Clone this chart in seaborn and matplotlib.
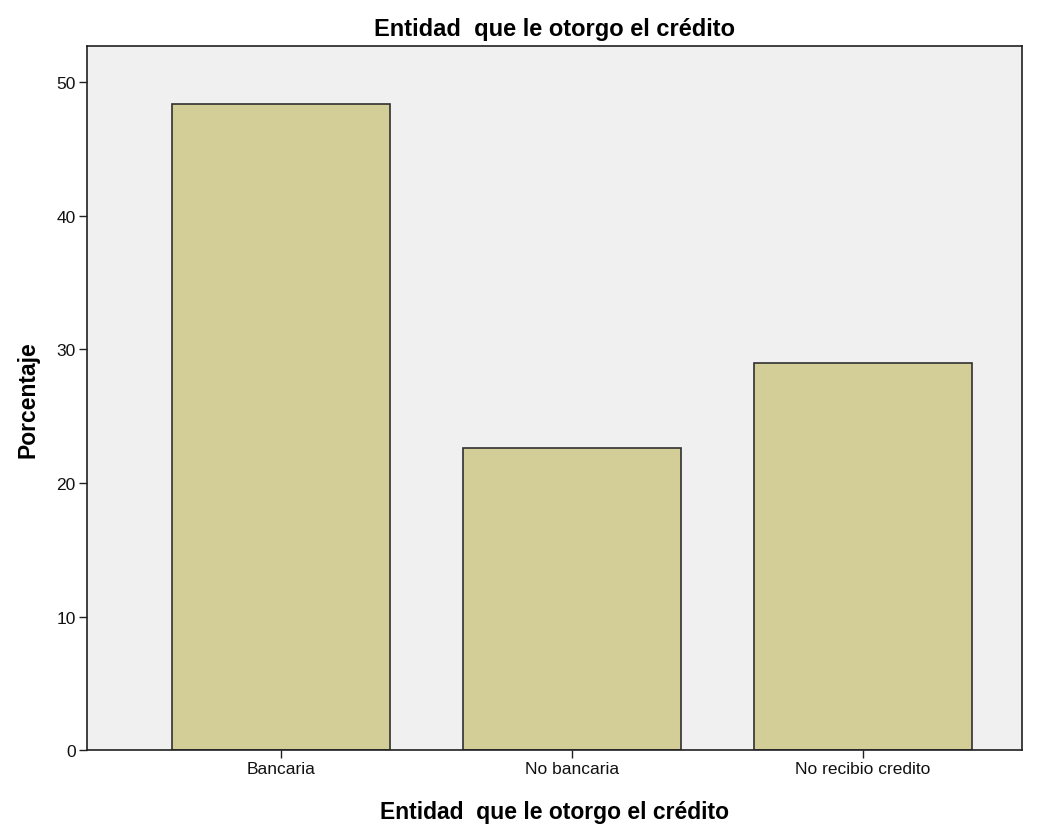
import pandas as pd
import seaborn as sns
import matplotlib.pyplot as plt

sns.set_style('white')
plt.rcParams['font.family'] = ['Liberation Sans', 'DejaVu Sans']
plt.rcParams['text.color'] = 'black'
plt.rcParams['axes.labelcolor'] = 'black'

categorias = ["Bancaria", "No bancaria", "No recibio credito"]
porcentajes = [48.4, 22.6, 29.0]

df = pd.DataFrame({"entidad": categorias, "pct": porcentajes})

fig = plt.figure(figsize=(10.48, 8.29), dpi=100)
ax = fig.add_axes([0.083, 0.094, 0.892, 0.849])
ax.set_facecolor('#F0F0F0')

sns.barplot(data=df, x="entidad", y="pct", color='#D3CE97', saturation=1,
            edgecolor='#303030', linewidth=1.2, width=0.75, ax=ax)

ax.set_xlim(-0.667, 2.546)
ax.set_ylim(0, 52.7)
ax.set_yticks([0, 10, 20, 30, 40, 50])
for s in ax.spines.values():
    s.set_linewidth(1.2)
    s.set_edgecolor('#202020')
ax.tick_params(axis='both', direction='out', length=6, width=1, color='#202020',
               labelsize=12.5, labelcolor='#111111', left=True, bottom=True, pad=2)
ax.set_xlabel("Entidad  que le otorgo el crédito", fontsize=16.5, fontweight='bold', labelpad=17)
ax.set_ylabel("Porcentaje", fontsize=16.5, fontweight='bold', labelpad=12)
ax.set_title("Entidad  que le otorgo el crédito", fontsize=17, fontweight='semibold', pad=8)

fig.savefig("out.png", dpi=100)
